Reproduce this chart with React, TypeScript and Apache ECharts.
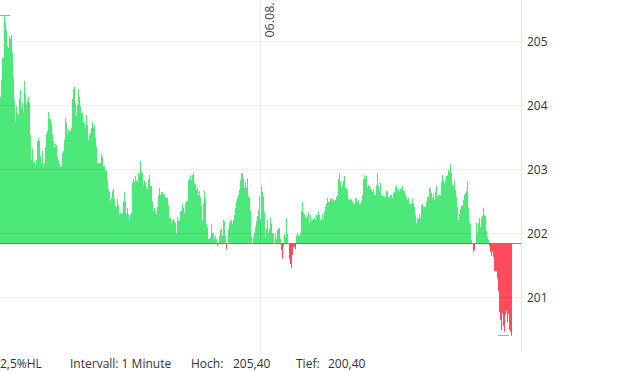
import React, { useEffect, useRef } from 'react';
import * as echarts from 'echarts';

// Price per 1-minute bar, 4 chunks
const pricesA = [
  204.13, 204.40, 204.74, 204.75, 205.40, 205.30, 205.18, 204.93, 204.90, 205.08,
  205.04, 205.10, 204.83, 204.43, 204.08, 203.75, 203.99, 203.88, 203.85, 204.10,
  204.24, 203.96, 204.04, 203.90, 204.38, 204.18, 204.00, 204.08, 204.13, 204.04,
  203.54, 203.15, 203.33, 203.10, 203.13, 203.05, 203.15, 203.44, 203.49, 203.44,
  203.21, 203.10, 203.29, 203.04, 203.10, 203.35, 203.55, 203.60, 203.90, 203.79,
  203.79, 203.72, 203.55, 203.44, 203.35, 203.40, 203.38, 203.19, 203.13, 203.10,
  203.04, 203.05, 203.25, 203.29, 203.46, 203.80, 203.72, 203.54, 203.63, 203.60,
  203.60, 203.65, 204.10, 204.25, 204.29, 204.04, 203.85, 204.00, 204.25, 204.13,
  203.99, 203.88, 203.88, 203.74, 203.72, 203.65, 203.85, 203.69, 203.46, 203.54,
  203.57, 203.65, 203.74, 203.65, 203.69, 203.50, 203.36, 203.10, 203.10, 203.10,
  203.10, 203.24, 203.19, 203.05, 203.05, 202.97, 202.99, 202.83, 202.69, 202.65,
  202.50, 202.55, 202.66, 202.69, 202.54, 202.41, 202.41, 202.54, 202.44, 202.30,
  202.33, 202.30, 202.32, 202.50, 202.65, 202.49, 202.30, 202.40, 202.29, 202.21,
];
const pricesB = [
  202.30, 202.30, 202.79, 202.85, 202.80, 202.90, 202.83, 202.80, 202.94, 202.91,
  203.13, 202.96, 202.94, 202.75, 202.83, 202.80, 202.72, 202.69, 202.85, 202.91,
  202.74, 202.74, 202.50, 202.35, 202.40, 202.35, 202.30, 202.41, 202.60, 202.71,
  202.60, 202.65, 202.65, 202.61, 202.60, 202.55, 202.55, 202.55, 202.44, 202.24,
  202.24, 202.16, 202.21, 202.21, 202.19, 202.16, 202.00, 202.25, 202.19, 202.21,
  202.35, 202.35, 202.46, 202.40, 202.32, 202.47, 202.50, 202.50, 202.83, 202.85,
  202.91, 202.83, 202.91, 202.94, 202.79, 202.77, 202.68, 202.72, 202.60, 202.66,
  202.57, 202.44, 202.21, 202.47, 202.66, 202.54, 202.15, 202.10, 201.91, 201.91,
  201.94, 202.15, 202.00, 202.00, 201.91, 201.96, 201.91, 201.80, 201.84, 201.96,
  202.05, 202.08, 201.96, 202.21, 202.19, 201.96, 201.75, 201.84, 202.07, 202.16,
  202.19, 202.21, 202.15, 202.21, 202.29, 202.40, 202.50, 202.55, 202.60, 202.68,
  202.83, 202.94, 202.94, 202.85, 202.71, 202.80, 202.71, 202.86, 202.57, 202.58,
  202.36, 201.94, 201.84, 201.93, 202.00, 202.10, 202.19, 202.27, 202.36, 202.58,
];
const pricesC = [
  202.22, 202.74, 202.65, 202.58, 202.33, 201.93, 202.08, 202.21, 202.00, 202.07,
  202.25, 202.15, 202.00, 201.99, 201.84, 202.00, 201.91, 202.05, 202.08, 202.08,
  201.91, 201.74, 201.61, 201.80, 201.99, 201.94, 202.24, 201.99, 201.84, 201.60,
  201.52, 201.46, 201.66, 201.79, 201.79, 201.75, 201.96, 202.00, 201.96, 201.96,
  202.00, 202.35, 202.49, 202.33, 202.30, 202.25, 202.25, 202.29, 202.33, 202.16,
  202.29, 202.19, 202.21, 202.22, 202.25, 202.21, 202.29, 202.29, 202.35, 202.29,
  202.21, 202.21, 202.30, 202.22, 202.35, 202.41, 202.46, 202.55, 202.49, 202.50,
  202.54, 202.55, 202.50, 202.54, 202.50, 202.52, 202.57, 202.60, 202.85, 202.94,
  202.80, 202.72, 202.75, 202.82, 202.90, 202.71, 202.71, 202.68, 202.54, 202.52,
  202.54, 202.52, 202.50, 202.46, 202.46, 202.55, 202.54, 202.49, 202.52, 202.46,
  202.46, 202.49, 202.60, 202.85, 202.91, 202.85, 202.90, 202.71, 202.75, 202.74,
  202.71, 202.68, 202.65, 202.69, 202.60, 202.60, 202.75, 202.94, 202.74, 202.66,
  202.79, 202.60, 202.60, 202.58, 202.57, 202.57, 202.66, 202.65, 202.57, 202.55,
];
const pricesD = [
  202.60, 202.60, 202.55, 202.63, 202.65, 202.72, 202.75, 202.66, 202.69, 202.65,
  202.69, 202.71, 202.75, 202.66, 202.66, 202.60, 202.57, 202.52, 202.55, 202.46,
  202.46, 202.46, 202.55, 202.46, 202.41, 202.29, 202.16, 202.24, 202.22, 202.30,
  202.24, 202.44, 202.46, 202.41, 202.41, 202.41, 202.49, 202.57, 202.57, 202.71,
  202.69, 202.63, 202.55, 202.61, 202.52, 202.65, 202.74, 202.57, 202.60, 202.60,
  202.60, 202.80, 202.91, 202.83, 202.79, 202.83, 202.90, 202.91, 202.99, 202.96,
  203.08, 202.94, 202.75, 202.74, 202.83, 202.68, 202.57, 202.41, 202.21, 202.30,
  202.38, 202.43, 202.44, 202.52, 202.60, 202.63, 202.66, 202.80, 202.40, 202.16,
  202.15, 201.90, 201.84, 201.71, 201.74, 201.84, 202.16, 202.00, 202.16, 202.24,
  202.10, 202.24, 202.27, 202.40, 202.29, 202.27, 202.04, 201.94, 201.90, 201.80,
  201.71, 201.65, 201.71, 201.63, 201.41, 201.41, 201.41, 201.30, 201.10, 200.77,
  200.65, 200.49, 200.75, 200.55, 200.46, 200.72, 200.79, 200.61, 200.74, 200.49,
  200.46, 200.40,
];

const prices = [...pricesA, ...pricesB, ...pricesC, ...pricesD];

const baseline = 201.84;          // reference price (previous close)
const yTicks = [201, 202, 203, 204, 205];
const yMin = 200.145;
const yMax = 205.645;
const sessionSlots = 521;          // minutes on the x axis
const dayBreakIndex = 260;         // start of 06.08.
const dayBreakLabel = '06.08.';
const footerLabels = ['2,5%HL', 'Intervall: 1 Minute', 'Hoch:', 'HIGH', 'Tief:', 'LOW'];
const footerX = [0, 70, 191, 233, 296, 328];

const GREEN = '#4ce87a';
const RED = '#ff4b5c';
const FONT = '"Open Sans", "Noto Sans", sans-serif';

const fmt = (v: number) => v.toFixed(2).replace('.', ',');

export default function App() {
  const ref = useRef<HTMLDivElement>(null);

  useEffect(() => {
    if (!ref.current) return;
    const chart = echarts.init(ref.current, undefined, { renderer: 'svg' });

    const n = prices.length;
    const upData: number[][] = prices.map((v, i) => [i, Math.max(v, baseline)]);
    upData.push([n, Math.max(prices[n - 1], baseline)]);
    const downData: number[][] = prices.map((v, i) => [i, Math.min(v, baseline)]);
    downData.push([n, Math.min(prices[n - 1], baseline)]);

    const high = Math.max(...prices);
    const low = Math.min(...prices);
    const iHigh = prices.indexOf(high);
    const iLow = prices.lastIndexOf(low);

    const gridLine = { color: 'rgba(0,0,0,0.075)', width: 1, type: 'solid' as const };

    const footer = footerLabels.map((t, k) => ({
      type: 'text',
      x: footerX[k],
      y: 363,
      silent: true,
      style: {
        text: t === 'HIGH' ? fmt(high) : t === 'LOW' ? fmt(low) : t,
        fill: '#333',
        fontSize: 12,
        fontFamily: FONT,
        verticalAlign: 'middle',
        align: 'left',
      },
    }));

    const option: any = {
      animation: false,
      grid: { left: 0, right: 99, top: 0, bottom: 20, containLabel: false },
      xAxis: {
        type: 'value',
        min: 0,
        max: sessionSlots,
        show: false,
      },
      yAxis: {
        type: 'value',
        position: 'right',
        min: yMin,
        max: yMax,
        splitLine: { show: false },
        axisTick: { show: false },
        axisLine: { show: true, onZero: false, lineStyle: { color: '#e8e8e8', width: 1 } },
        axisLabel: {
          color: '#333',
          fontSize: 12,
          fontFamily: FONT,
          margin: 6,
          formatter: (v: number) => (yTicks.includes(Math.round(v * 1000) / 1000) ? String(Math.round(v)) : ''),
        },
      },
      series: [
        {
          type: 'line',
          step: 'end',
          data: upData,
          symbol: 'none',
          silent: true,
          lineStyle: { width: 0, opacity: 0 },
          areaStyle: { origin: baseline, color: GREEN, opacity: 1 },
          z: 2,
        },
        {
          type: 'line',
          step: 'end',
          data: downData,
          symbol: 'none',
          silent: true,
          lineStyle: { width: 0, opacity: 0 },
          areaStyle: { origin: baseline, color: RED, opacity: 1 },
          z: 3,
          markLine: {
            silent: true,
            symbol: ['none', 'none'],
            label: { show: false },
            animation: false,
            data: [
              ...yTicks.map((v) => ({ yAxis: v, lineStyle: gridLine })),
              { xAxis: dayBreakIndex, lineStyle: gridLine },
              { yAxis: baseline, lineStyle: { color: '#f0505c', width: 1, type: 'solid' } },
              [
                { coord: [Math.max(0, iHigh - 5), high], lineStyle: { color: '#aaa', width: 1, type: 'solid' } },
                { coord: [iHigh + 6, high] },
              ],
              [
                { coord: [iLow - 13, low], lineStyle: { color: '#aaa', width: 1, type: 'solid' } },
                { coord: [iLow - 2, low] },
              ],
            ],
          },
        },
      ],
      graphic: [
        {
          type: 'text',
          x: 269,
          y: 20,
          rotation: Math.PI / 2,
          silent: true,
          style: {
            text: dayBreakLabel,
            fill: '#444',
            fontSize: 12.5,
            fontFamily: FONT,
            align: 'center',
            verticalAlign: 'middle',
          },
        },
        ...footer,
      ],
    };

    chart.setOption(option);
    return () => chart.dispose();
  }, []);

  return (
    <div
      ref={ref}
      style={{ position: 'fixed', left: 0, top: 0, width: 620, height: 372, background: '#fff' }}
    />
  );
}
